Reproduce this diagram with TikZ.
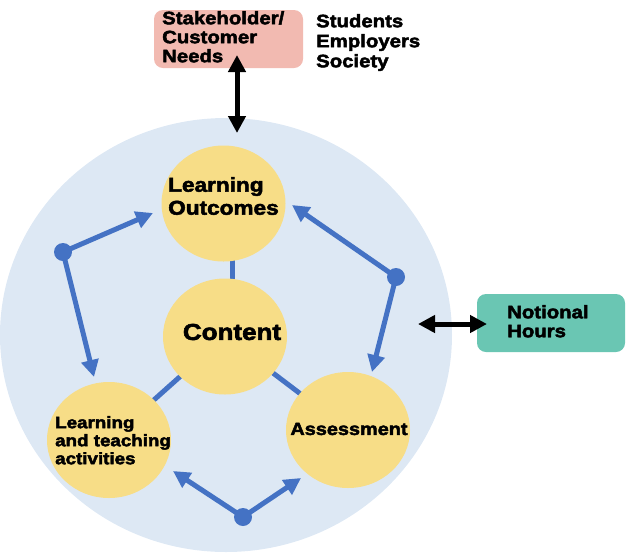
\documentclass[tikz,border=0pt]{standalone}
\usepackage{fontspec}
\usetikzlibrary{shapes.geometric,arrows.meta,calc}
\newfontfamily\hv{Liberation Sans Bold}[FakeBold=2.6,FakeStretch=1.13]
\definecolor{bgblue}{HTML}{DDE8F4}
\definecolor{ylw}{HTML}{F7DD87}
\definecolor{arrblue}{HTML}{4472C4}
\definecolor{pinkbox}{HTML}{F2BAB1}
\definecolor{tealbox}{HTML}{6AC6B3}
\pgfdeclarelayer{back}
\pgfdeclarelayer{mid}
\pgfsetlayers{back,mid,main}
\tikzset{
  bubble/.style={ellipse, fill=ylw, minimum width=124, minimum height=116, inner sep=0},
  hub/.style={circle, fill=arrblue, minimum size=18, inner sep=0},
  barrow/.style={draw=arrblue, line width=5pt, -{Triangle[length=17pt,width=17pt]}},
  bline/.style={draw=arrblue, line width=5pt},
  karrow/.style={draw=black, line width=5pt, {Triangle[length=17pt,width=17pt]}-{Triangle[length=17pt,width=17pt]}},
  txt/.style={inner sep=0, align=left, text=black},
}
\begin{document}
\begin{tikzpicture}[x=1pt,y=-1pt]
\useasboundingbox (0,0) rectangle (637,558);
% big background ellipse
\begin{pgfonlayer}{back}
\node[ellipse, fill=bgblue, minimum width=452, minimum height=434, inner sep=0] (big) at (226,335) {};
\end{pgfonlayer}
% boxes
\node[fill=pinkbox, rounded corners=9pt, minimum width=149, minimum height=58, inner sep=0] (sk) at (228.5,39) {};
\node[fill=tealbox, rounded corners=9pt, minimum width=148, minimum height=58, inner sep=0] (nh) at (551,323) {};
% bubbles
\node[bubble] (lo) at (223.5,203.5) {};
\node[bubble] (ct) at (225,336.5) {};
\node[bubble] (lt) at (109,440) {};
\node[bubble] (as) at (348,430) {};
% connectors between bubbles (behind the bubbles)
\begin{pgfonlayer}{mid}
\draw[bline] ($(lo.center)+(8.5,0)$) -- ($(ct.center)+(7,0)$);
\draw[bline] (ct.center) -- (lt.center);
\draw[bline] (ct.center) -- (as.center);
\end{pgfonlayer}
% hubs
\node[hub] (h1) at (63,252) {};
\node[hub] (h2) at (396,277) {};
\node[hub] (h3) at (243,517) {};
\coordinate (t1a) at (153,213);
\coordinate (t1b) at (94,377);
\coordinate (t2a) at (292,205);
\coordinate (t2b) at (372,372);
\coordinate (t3a) at (173,471);
\coordinate (t3b) at (301,478);
\draw[barrow] (h1.center) -- (t1a);
\draw[barrow] (h1.center) -- (t1b);
\draw[barrow] (h2.center) -- (t2a);
\draw[barrow] (h2.center) -- (t2b);
\draw[barrow] (h3.center) -- (t3a);
\draw[barrow] (h3.center) -- (t3b);
% black arrows
\coordinate (k1) at (237,55);
\coordinate (k2) at (237,133);
\coordinate (k3) at (418,324);
\coordinate (k4) at (487,324);
\draw[karrow] (k1) -- (k2);
\draw[karrow] (k3) -- (k4);
% texts
\node[txt, anchor=north west, font={\hv\fontsize{18}{19}\selectfont}] (skt) at (162,11) {Stakeholder/\\Customer\\Needs};
\node[txt, anchor=north west, font={\hv\fontsize{18}{20}\selectfont}] (stu) at (316,14) {Students\\Employers\\Society};
\node[txt, anchor=north west, font={\hv\fontsize{18}{19}\selectfont}] (nht) at (507,305) {Notional\\Hours};
\node[txt, anchor=north west, font={\hv\fontsize{20}{23}\selectfont}] (lot) at (168,177) {Learning\\Outcomes};
\node[txt, font={\hv\fontsize{23}{25}\selectfont}] (ctt) at (232,332) {Content};
\node[txt, anchor=north west, font={\hv\fontsize{16.6}{18}\selectfont}] (ltt) at (55,416) {Learning\\and teaching\\activities};
\node[txt, font={\hv\fontsize{17.6}{19}\selectfont}] (ast) at (349,429) {Assessment};
\end{tikzpicture}
\end{document}
